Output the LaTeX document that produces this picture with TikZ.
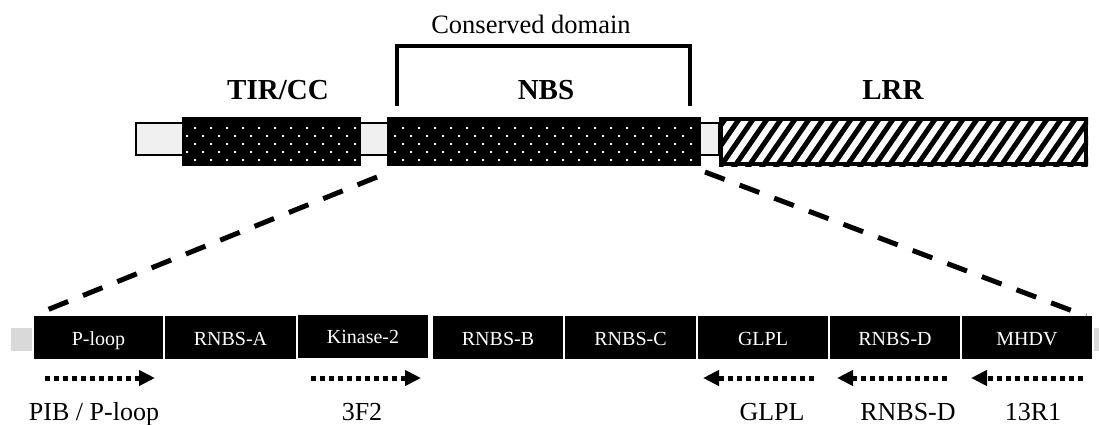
\documentclass[tikz,border=0pt]{standalone}
\usepackage{fontspec}
\setmainfont{Liberation Serif}
\usetikzlibrary{arrows.meta}

\begin{document}
\begin{tikzpicture}[x=1pt,y=-1pt,
  backbone/.style={draw=black, line width=2pt, fill=black!6, inner sep=0pt},
  dotbox/.style={fill=black, inner sep=0pt, minimum height=49pt},
  hatchbox/.style={draw=black, line width=4pt, inner sep=0pt, minimum height=45pt},
  motif/.style={fill=black, inner sep=0pt, minimum height=43pt, minimum width=130pt,
                text=white, font=\fontsize{20}{20}\selectfont, text height=15pt, text depth=0pt},
  domlabel/.style={font=\fontsize{29}{29}\selectfont\bfseries, anchor=base, inner sep=0pt},
  primerlabel/.style={font=\fontsize{26}{26}\selectfont, anchor=base, inner sep=0pt},
  zoomline/.style={line width=5pt, dash pattern=on 21pt off 16pt},
  primer/.style={line width=5pt, dash pattern=on 5pt off 4pt,
                 -{Triangle[length=16pt,width=15pt]}},
  bracket/.style={line width=3.5pt},
  greystub/.style={fill=black!15, inner sep=0pt, minimum height=23pt}
]
\useasboundingbox (0,0) rectangle (1099,424);

% ---------- full protein ----------
\node[backbone, minimum width=583pt, minimum height=32pt] (bb) at (427.5,139) {};
\node[dotbox, minimum width=179pt] (tir) at (271.5,141.5) {};
\node[dotbox, minimum width=314pt] (nbs) at (544,141.5) {};

% white dot texture on the TIR/CC and NBS blocks
\foreach \yy/\xo in {128/195, 136/187, 144/195, 152/187, 160/195}
  \foreach \k in {0,...,10}
    \fill[white] (\xo+16*\k-1,\yy-1) rectangle ++(2,2);
\foreach \yy/\xo in {128/403, 136/395, 144/403, 152/395, 160/403}
  \foreach \k in {0,...,18}
    \fill[white] (\xo+16*\k-1,\yy-1) rectangle ++(2,2);

% hatched LRR block
\node[hatchbox, minimum width=365pt] (lrr) at (903.5,141.5) {};
\begin{scope}
  \clip (lrr.south west) rectangle (lrr.north east);
  \foreach \k in {0,...,29}
    \draw[line width=5pt] (690+14*\k,170) -- ++(40,-58);
\end{scope}
\node[hatchbox, minimum width=365pt] at (lrr) {};

% domain labels
\node[domlabel] (tirlab) at (278,99) {TIR/CC};
\node[domlabel] (nbslab) at (546,99) {NBS};
\node[domlabel] (lrrlab) at (893,99) {LRR};

% conserved-domain bracket
\coordinate (brl) at (397,106);
\coordinate (brr) at (690,106);
\draw[bracket] (brl) -- ++(0,-60) -| (brr);
\node[font=\fontsize{26.5}{26.5}\selectfont, anchor=base, inner sep=0pt] (cons) at (531,33) {Conserved domain};

% ---------- NBS motifs ----------
\node[greystub, minimum width=21pt] (stubl) at (21.5,339.5) {};
\node[greystub, minimum width=10pt] (stubr) at (1099,339.5) {};

\node[motif, minimum width=129pt] (ploop) at (98.5,337.5) {P-loop};
\node[motif, minimum width=131pt] (rnbsa) at (230.5,337.5) {RNBS-A};
\node[motif] (kin) at (363,336) {Kinase-2};
\node[motif] (rnbsb) at (498,337.5) {RNBS-B};
\node[motif, minimum width=131pt] (rnbsc) at (630.5,337.5) {RNBS-C};
\node[motif] (glpl) at (763,337.5) {GLPL};
\node[motif] (rnbsd) at (895,337.5) {RNBS-D};
\node[motif] (mhdv) at (1027,337.5) {MHDV};

% zoom lines from the NBS block to the motif row
\coordinate (zl1) at (377,177);
\coordinate (zl2) at (37,314);
\coordinate (zr1) at (705,172);
\coordinate (zr2) at (1086,316);
\draw[zoomline] (zl1) -- (zl2);
\draw[zoomline] (zr1) -- (zr2);

% ---------- primers ----------
\coordinate (p1a) at (45,378);   \coordinate (p1b) at (155,378);
\coordinate (p2a) at (311,378);  \coordinate (p2b) at (421,378);
\coordinate (p3a) at (814,378);  \coordinate (p3b) at (703,378);
\coordinate (p4a) at (947,378);  \coordinate (p4b) at (837,378);
\coordinate (p5a) at (1083,378); \coordinate (p5b) at (971,378);
\draw[primer] (p1a) -- (p1b);
\draw[primer] (p2a) -- (p2b);
\draw[primer] (p3a) -- (p3b);
\draw[primer] (p4a) -- (p4b);
\draw[primer] (p5a) -- (p5b);

\node[primerlabel] (l1) at (94,420) {PIB / P-loop};
\node[primerlabel] (l2) at (362,420) {3F2};
\node[primerlabel] (l3) at (772,420) {GLPL};
\node[primerlabel] (l4) at (908,420) {RNBS-D};
\node[primerlabel] (l5) at (1033,420) {13R1};
\end{tikzpicture}
\end{document}
